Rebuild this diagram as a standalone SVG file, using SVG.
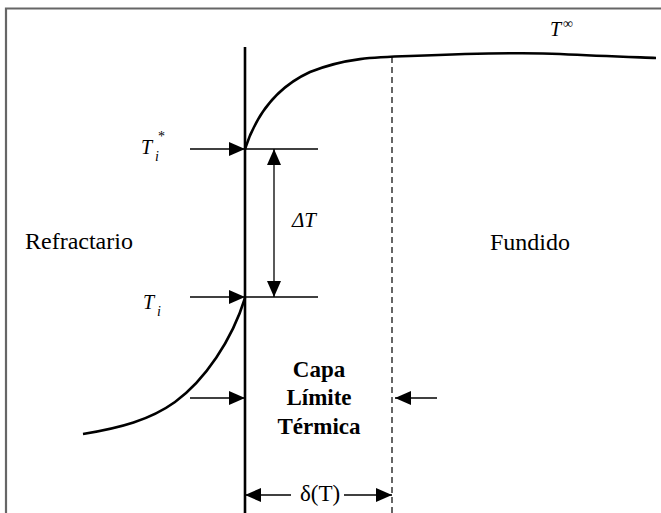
<svg xmlns="http://www.w3.org/2000/svg" width="661" height="513" viewBox="0 0 661 513">
<defs>
<marker id="ah" markerWidth="16" markerHeight="14" refX="16" refY="7" orient="auto" markerUnits="userSpaceOnUse">
<path d="M0,0 L16,7 L0,14 Z" fill="#000"/>
</marker>
</defs>
<style>
text{font-family:'Liberation Serif',Tinos,'Times New Roman','DejaVu Serif',serif;fill:#000}
.it{font-style:italic}
.b{font-weight:bold}
.ln{stroke:#000;fill:none}
</style>
<rect width="661" height="513" fill="#fff"/>
<g id="frame">
<path d="M6,513 V8.5 H661" stroke="#666" stroke-width="2.2" fill="none"/>
</g>
<g id="wall">
<line x1="245" y1="47" x2="245" y2="513" stroke="#000" stroke-width="2.6"/>
</g>
<g id="boundary">
<line x1="392" y1="57" x2="392" y2="513" stroke="#000" stroke-width="1.2" stroke-dasharray="6,4"/>
</g>
<g id="profile">
<path class="ln" stroke-width="2.6" d="M83,434 C120,428 150,420 175,402 C205,380 232,340 245,298"/>
<path class="ln" stroke-width="2.6" d="M245,149 C256,115 275,88 310,72 C345,58 375,57 410,56 C460,54 520,52 560,54 C600,56 630,57 656,58"/>
</g>
<g id="connectors">
<line class="ln" x1="190" y1="149" x2="245" y2="149" stroke-width="1.6" marker-end="url(#ah)"/>
<line class="ln" x1="245" y1="149" x2="318" y2="149" stroke-width="1.3"/>
<line class="ln" x1="190" y1="297" x2="245" y2="297" stroke-width="1.6" marker-end="url(#ah)"/>
<line class="ln" x1="245" y1="297" x2="318" y2="297" stroke-width="1.3"/>
<line class="ln" x1="274" y1="200" x2="274" y2="149" stroke-width="1.3" marker-end="url(#ah)"/>
<line class="ln" x1="274" y1="200" x2="274" y2="297" stroke-width="1.3" marker-end="url(#ah)"/>
<line class="ln" x1="190" y1="398" x2="245" y2="398" stroke-width="1.6" marker-end="url(#ah)"/>
<line class="ln" x1="437" y1="398" x2="395" y2="398" stroke-width="1.6" marker-end="url(#ah)"/>
<line class="ln" x1="291" y1="495" x2="245" y2="495" stroke-width="1.6" marker-end="url(#ah)"/>
<line class="ln" x1="344" y1="495" x2="392" y2="495" stroke-width="1.6" marker-end="url(#ah)"/>
</g>
<g id="labels">
<text class="it" x="141" y="154" font-size="20">T</text>
<text class="it" x="155" y="161" font-size="14">i</text>
<text x="158" y="141" font-size="14">*</text>
<text class="it" x="143" y="309" font-size="20">T</text>
<text class="it" x="157" y="316" font-size="14">i</text>
<text class="it" x="292" y="227" font-size="21">ΔT</text>
<text class="it" x="550" y="36" font-size="20">T</text>
<text x="563" y="28" font-size="14">∞</text>
<text x="25" y="249" font-size="24">Refractario</text>
<text x="490" y="250" font-size="24">Fundido</text>
<text class="b" x="319" y="377" font-size="23" text-anchor="middle">Capa</text>
<text class="b" x="319" y="405" font-size="23" text-anchor="middle">Límite</text>
<text class="b" x="319" y="434" font-size="23" text-anchor="middle">Térmica</text>
<text x="320" y="501" font-size="23" text-anchor="middle">δ(T)</text>
</g>
</svg>
